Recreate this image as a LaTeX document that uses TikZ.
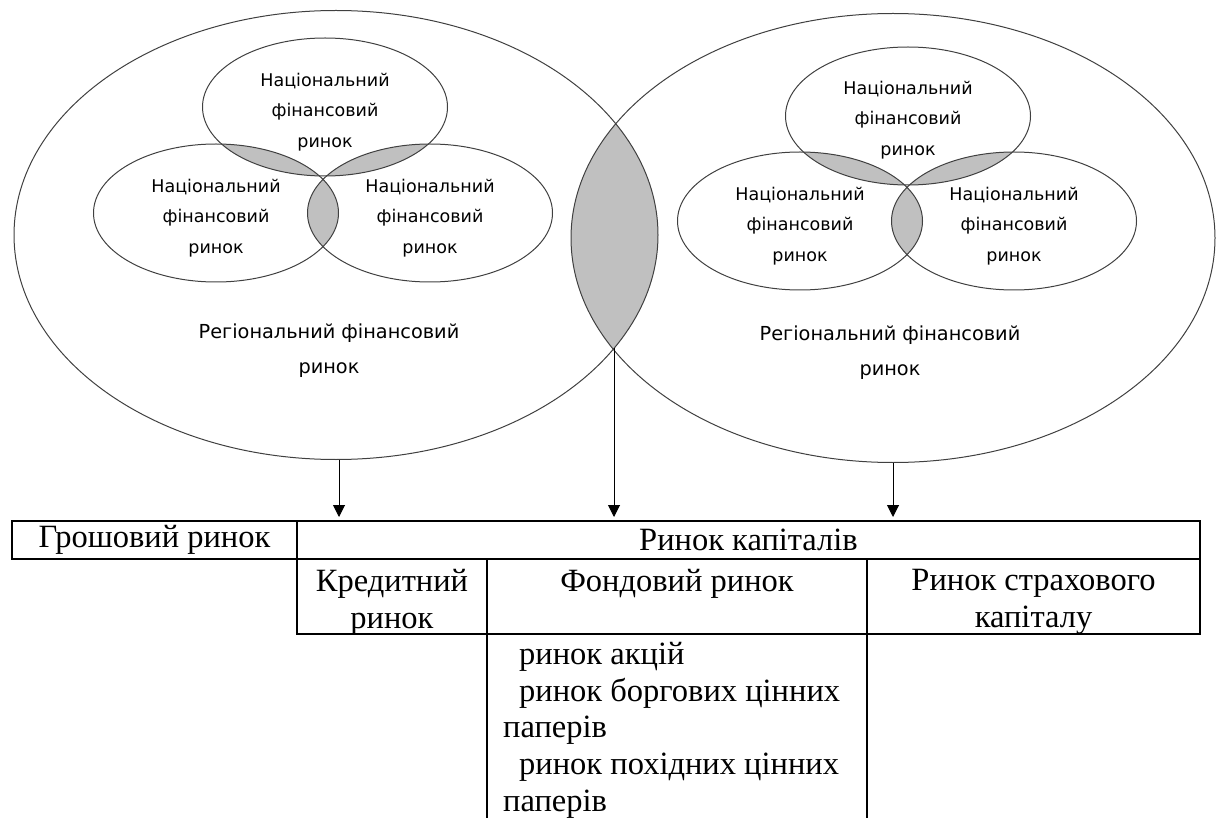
\documentclass[tikz,border=0pt]{standalone}
\usepackage{fontspec}
\setmainfont{Liberation Serif}
\newfontfamily\ellipseFont{DejaVu Sans}
\usepackage{tikz}
\usetikzlibrary{shapes,arrows.meta,positioning,backgrounds}
\definecolor{lineGray}{RGB}{64,64,64}
\definecolor{shadeGray}{RGB}{192,192,192}
\tikzstyle{regEllipse} = [ellipse, draw=lineGray, line width=1pt, inner sep=0pt,
minimum width=644pt, minimum height=449pt]
\tikzstyle{natEllipse} = [ellipse, draw=lineGray, line width=1pt, inner sep=0pt,
minimum width=245pt, minimum height=138pt]
\tikzstyle{ellText} = [align=center, inner sep=0pt, text=black, font=\ellipseFont\fontsize{17.5}{30.5}\selectfont]
\tikzstyle{regText} = [ellText, font=\ellipseFont\fontsize{19.3}{35}\selectfont]
\tikzstyle{cell} = [rectangle, draw=black, line width=2pt, inner sep=0pt, outer sep=0pt,
font=\fontsize{32.5}{36.7}\selectfont]
\tikzstyle{cellText} = [align=center, inner sep=0pt, font=\fontsize{32.5}{36.7}\selectfont]
\tikzstyle{tableLine} = [black, line width=2pt]
\tikzstyle{flowArrow} = [line width=1pt, -{Triangle[length=12pt,width=12pt]}, shorten >=4pt]

\begin{document}
\begin{tikzpicture}[x=1pt,y=-1pt]
		\useasboundingbox (0,0) rectangle (1218,818);
		%ellipses
		\node[regEllipse](regL) at (336,235){};
		\node[regEllipse](regR) at (893,238){};
		\node[natEllipse](natLT) at (325,107){};
		\node[natEllipse](natLL) at (216,213){};
		\node[natEllipse](natLR) at (430,213){};
		\node[natEllipse](natRT) at (908,116){};
		\node[natEllipse](natRL) at (800,221){};
		\node[natEllipse](natRR) at (1014,221){};
		
		%shaded overlaps
		\begin{scope}[on background layer]
			\begin{scope}\clip (regL.center) ellipse [x radius=322pt, y radius=224.5pt];
				\fill[shadeGray] (regR.center) ellipse [x radius=322pt, y radius=224.5pt];\end{scope}
			\begin{scope}\clip (natLT.center) ellipse [x radius=122.5pt, y radius=69pt];
				\fill[shadeGray] (natLL.center) ellipse [x radius=122.5pt, y radius=69pt];\end{scope}
			\begin{scope}\clip (natLT.center) ellipse [x radius=122.5pt, y radius=69pt];
				\fill[shadeGray] (natLR.center) ellipse [x radius=122.5pt, y radius=69pt];\end{scope}
			\begin{scope}\clip (natLL.center) ellipse [x radius=122.5pt, y radius=69pt];
				\fill[shadeGray] (natLR.center) ellipse [x radius=122.5pt, y radius=69pt];\end{scope}
			\begin{scope}\clip (natRT.center) ellipse [x radius=122.5pt, y radius=69pt];
				\fill[shadeGray] (natRL.center) ellipse [x radius=122.5pt, y radius=69pt];\end{scope}
			\begin{scope}\clip (natRT.center) ellipse [x radius=122.5pt, y radius=69pt];
				\fill[shadeGray] (natRR.center) ellipse [x radius=122.5pt, y radius=69pt];\end{scope}
			\begin{scope}\clip (natRL.center) ellipse [x radius=122.5pt, y radius=69pt];
				\fill[shadeGray] (natRR.center) ellipse [x radius=122.5pt, y radius=69pt];\end{scope}
		\end{scope}
		
		%ellipse texts
		\node[ellText](natLTtext) at ([yshift=-5pt]natLT.center){Національний\\фінансовий\\ринок};
		\node[ellText](natLLtext) at ([yshift=-5pt]natLL.center){Національний\\фінансовий\\ринок};
		\node[ellText](natLRtext) at ([yshift=-5pt]natLR.center){Національний\\фінансовий\\ринок};
		\node[ellText](natRTtext) at ([yshift=-4pt]natRT.center){Національний\\фінансовий\\ринок};
		\node[ellText](natRLtext) at ([yshift=-5pt]natRL.center){Національний\\фінансовий\\ринок};
		\node[ellText](natRRtext) at ([yshift=-5pt]natRR.center){Національний\\фінансовий\\ринок};
		\node[regText](regLtext) at (329,350.7){Регіональний фінансовий\\ринок};
		\node[regText](regRtext) at (890,352.5){Регіональний фінансовий\\ринок};
		
		%table
		\node[cell, minimum width=285pt, minimum height=38pt](money) at (154.5,540){Грошовий ринок};
		\node[cell, minimum width=903pt, minimum height=38pt, right=0pt of money](capital){Ринок капіталів};
		\node[cell, minimum width=190pt, minimum height=75pt, below right=0pt of capital.south west](credit){};
		\node[cell, minimum width=380pt, minimum height=75pt, right=0pt of credit](stock){};
		\node[cell, minimum width=333pt, minimum height=75pt, right=0pt of stock](insure){};
		\node[cellText, below=10pt of credit.north](creditText){Кредитний\\ринок};
		\node[cellText, below=10pt of stock.north](stockText){Фондовий ринок};
		\node[cellText, below=10pt of insure.north](insureText){Ринок страхового\\капіталу};
		\node[cellText, align=left, anchor=north west](stockList) at ([xshift=16pt,yshift=-8pt]stock.south west)
			{\hspace*{16pt}ринок акцій\\\hspace*{16pt}ринок боргових цінних\\паперів\\\hspace*{16pt}ринок похідних цінних\\паперів};
		\coordinate (tableBottom) at (0,818);
		\draw[tableLine](stock.south west)--(stock.south west |- tableBottom);
		\draw[tableLine](stock.south east)--(stock.south east |- tableBottom);
		
		%arrows
		\coordinate (arrowL) at ([xshift=3pt]regL.south);
		\coordinate (lensBot) at (614,348);
		\draw[flowArrow](arrowL)--(arrowL |- capital.north);
		\draw[flowArrow](lensBot)--(lensBot |- capital.north);
		\draw[flowArrow](regR.south)--(regR.south |- capital.north);
	\end{tikzpicture}
\end{document}
